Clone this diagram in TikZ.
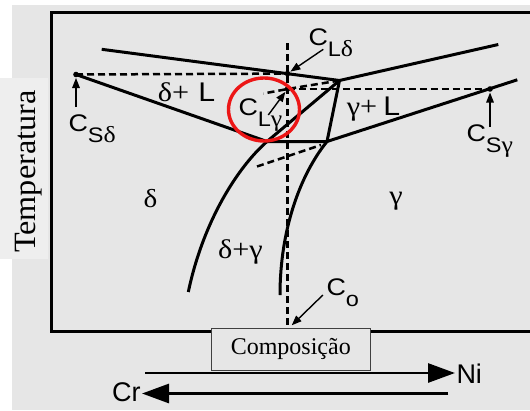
\documentclass[tikz,border=0pt]{standalone}
\usepackage{fontspec}
\setmainfont{Liberation Serif}
\setsansfont{Liberation Sans}
\usetikzlibrary{arrows.meta}

\definecolor{bggray}{RGB}{230,230,230}
\definecolor{lightbox}{RGB}{238,238,238}
\definecolor{circred}{RGB}{236,22,22}

% concentration label: C with a two-part subscript
\newcommand{\clab}[2]{\scalebox{1.12}[1]{{\sffamily\fontsize{24}{24}\selectfont C}\raisebox{-11pt}{\sffamily\fontsize{21}{21}\selectfont #1\rmfamily\fontsize{23}{23}\selectfont #2}}}
\newcommand{\fs}[1]{\fontsize{#1}{#1}\selectfont}
\newcommand{\wide}[1]{\scalebox{1.12}[1]{#1}}

\begin{document}
\begin{tikzpicture}[x=1pt, y=-1pt, line width=3pt,
    every node/.style={inner sep=0pt},
    tie/.style={line width=2.5pt, dash pattern=on 7pt off 4pt},
    pointer/.style={line width=1.4pt, -{Triangle[length=10pt,width=7.5pt]}, shorten >=3.5pt},
    bigarrow/.style={line width=2.8pt, -{Triangle[length=27pt,width=19pt]}}]
    \useasboundingbox (0,0) rectangle (530,410);
    \clip (0,0) rectangle (530,410);
    \fill[bggray] (11.7,5) rectangle (530,410);
    \fill[lightbox] (0,78.3) rectangle (48.3,259.3);
    \node[rotate=90, font=\fs{31}] (temp) at (29,171.7) {\scalebox{1.04}[1]{Temperatura}};

    \draw (51.5,12) rectangle (545,331);

    % key points
    \coordinate (Q) at (339.5,80.5);
    \coordinate (P1) at (267,141.5);
    \coordinate (P2) at (327,141.5);
    \coordinate (Sd) at (76,74.5);
    \coordinate (Ld) at (287.5,73.6);
    \coordinate (Lg) at (287.5,89);
    \coordinate (Sg) at (490,89);
    \coordinate (Tv) at (287.5,43);
    \coordinate (Bv) at (287.5,329);

    % liquidus, solidus and the delta+gamma field
    \draw (101.7,49.3) -- (Q) -- (498.3,44.5);
    \draw (Sd) -- (P1) -- (P2) -- (517.3,79.8);
    \draw (Q) -- (P2);
    \draw (Q) -- (P1) .. controls (237,168) and (203,222) .. (188.3,292);
    \draw (P2) .. controls (300,175) and (280,230) .. (280,295);

    % tie lines
    \draw[tie] (Sd) -- (Ld);
    \draw[tie] (Q) -- (Lg) -- (263.5,93.5);
    \draw[tie] (Lg) -- (Sg);
    \draw[tie] (257,166.5) -- (321,145);
    \draw[tie] (Tv) -- (Bv);

    \foreach \p in {Sd,Ld,Lg,Sg} \fill (\p) circle (2.8pt);

    \draw[circred, line width=3.4pt] (264,109.5) ellipse (35.5pt and 31.5pt);

    % phase fields
    \node[font=\fs{27}, anchor=base] (dl) at (186.5,101.7) {\wide{δ+\hspace{0.3em}{\sffamily L}}};
    \node[font=\fs{27}, anchor=base] (gl) at (373.5,115.5) {\wide{γ+\hspace{0.2em}{\sffamily L}}};
    \node[font=\fs{26}] (delta) at (150.5,198.5) {\wide{δ}};
    \node[font=\fs{27}] (gamma) at (396,201) {\wide{γ}};
    \node[font=\fs{27}] (dg) at (240.5,252) {\wide{δ+γ}};

    % concentrations
    \node[anchor=base west] (cSd) at (67,131.7) {\clab{S}{δ}};
    \node[anchor=base west] (cLd) at (307,45) {\clab{L}{δ}};
    \node[anchor=base west] (cLg) at (237,115) {\clab{L}{γ}};
    \node[anchor=base west] (cSg) at (465,141.7) {\clab{S}{γ}};
    \node[anchor=base west] (cCo) at (325,295) {\clab{o}{}};
    \coordinate (aSd) at (76,107);
    \coordinate (aLd) at (323.3,49.3);
    \coordinate (aLg) at (268.3,115);
    \coordinate (aSg) at (490,126.7);
    \coordinate (aCo) at (322.9,295);
    \draw[pointer] (aSd) -- (Sd);
    \draw[pointer] (aLd) -- (Ld);
    \draw[pointer] (aLg) -- (Lg);
    \draw[pointer] (aSg) -- (Sg);
    \draw[pointer, shorten >=1pt] (aCo) -- (291,326);

    \node[draw=black!75, line width=1pt, fill=bggray, minimum width=159pt, minimum height=42pt, font=\fs{24}] (comp) at (290.8,349.2) {Composição};

    % composition direction
    \node[anchor=base west, font=\sffamily\fs{27}] (ni) at (455,383) {Ni};
    \node[anchor=base east, font=\sffamily\fs{27}] (cr) at (142,401.7) {Cr};
    \coordinate (niA) at (145,373);
    \coordinate (crA) at (448.3,393.5);
    \draw[bigarrow] (niA) -- (niA -| ni.west);
    \draw[bigarrow] (crA) -- (crA -| cr.east);
\end{tikzpicture}
\end{document}
